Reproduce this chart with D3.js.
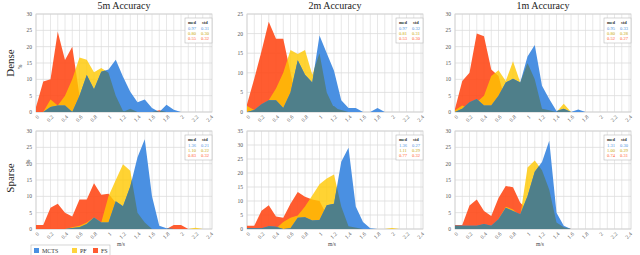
<!DOCTYPE html>
<html>
<head>
<meta charset="utf-8">
<script src="https://cdn.jsdelivr.net/npm/d3@7"></script>
<style>
  body { margin: 0; background: #fff; }
  svg text { font-family: "Liberation Serif", serif; }
</style>
</head>
<body>
<svg id="chart" width="640" height="255"></svg>
<script>
// bin centres (m/s)
var bins = [0, 0.1, 0.2, 0.3, 0.4, 0.5, 0.6, 0.7, 0.8, 0.9, 1.0, 1.1, 1.2,
            1.3, 1.4, 1.5, 1.6, 1.7, 1.8, 1.9, 2.0, 2.1, 2.2, 2.3, 2.4];
var xTicks = [0, 0.2, 0.4, 0.6, 0.8, 1, 1.2, 1.4, 1.6, 1.8, 2, 2.2, 2.4];
var seriesNames = ["MCTS", "PF", "FS"];
var titles = ["5m Accuracy", "2m Accuracy", "1m Accuracy"];
var rowNames = ["Dense", "Sparse"];
var yMax = [30, 25, 30, 30, 35, 30];

// percentages per bin
var dense5_mcts = [0,0,1.5,2,2,0,5,11.3,7,12.3,13,16,10.8,6.2,3,3.8,1.2,0,2.2,0.7,0,0,0,0,0];
var dense5_pf   = [0,0,3.8,2,5,10,16.7,16,12.2,13.5,12,5,0.3,0,0,0,0,0,0,0,0,0,0,0,0];
var dense5_fs   = [1.5,9.3,10,24.6,15.9,20,5,3,1,1.5,2,1.5,0,1,0,0,0,0.5,0,0,0,0,0,0,0];

var dense2_mcts = [0,0.5,2,3,3,1,5,13.2,9.5,7.5,19.5,15,10.5,3,1,1,0,0,1,0,0,0,0,0,0];
var dense2_pf   = [1.5,0.5,1,3,6,10,15.8,14.8,15.8,9.5,15,5,1,0.5,0,0,0,0,0,0,0,0,0,0,0];
var dense2_fs   = [2,8.5,15.5,23,18.7,18.7,10,2,1,0.5,0.5,1.5,1.5,0,0,0,0,0,0,0,0,0,0,0,0];

var dense1_mcts = [0,1,3,4,2,2,5,9,10.2,9,17,20.5,8,4,0.3,1,0,0.8,0,0,0,0,0,0,0];
var dense1_pf   = [0.5,2,1,3,5,11,12.8,9.5,15.5,9,15,10,1,0.5,0,2.5,0,0,0,0,0,0,0,0,0];
var dense1_fs   = [1,9.5,12,24,23.2,13,11,3,0,0,0.5,0,0,0,0,0,0,0,0,0,0,0,0,0,0];

var sparse5_mcts = [0,0,0,0,0,0.3,0.5,1.5,3.5,2,2,8.5,7,13,22,27.5,10,1,0.2,0,0,0,0,0,0];
var sparse5_pf   = [0,0,0,0,0,0.5,1,2,3.5,2,10,15,19.8,17.8,5,2,0,0,0,0,0,0,0.4,0,0];
var sparse5_fs   = [1.2,1.2,6.5,7.7,5,3.8,9,9,14,10.5,10.8,8,2,1,0.5,0,0,0,0,1.2,1.2,0,0,0,0];

var sparse2_mcts = [0.3,0.3,0.3,1,0.8,0,0.3,4,4.2,3,3.2,8.5,9,24,29,8,2.5,0.3,0,0,0,0,0,0,0];
var sparse2_pf   = [0,0,0,0,0.2,2.5,4,4.8,8,12,16,18,19.5,8,1,0.5,0,0,0,0,0.4,0,0,0,0];
var sparse2_fs   = [1.2,1.2,6.5,8.5,4.5,4,9,13.2,11.5,10.5,10,5,2,1,0,0,0,0,0,0,0,0,0,0,0];

var sparse1_mcts = [1,1,1,1,1.5,1,3,6.5,5.5,4.5,10,17.5,20.5,27,5,1,0,0,0,0,0,0,0,0,0];
var sparse1_pf   = [0,0,0,0,0,0.5,3,6.8,6,4,18.8,21,18,12,2,0.5,0,0,0,0,0,0,0,0,0];
var sparse1_fs   = [1.2,1.2,7.2,9,5.5,4,9.5,13.2,12.8,8,6,5.5,4,2,1,0.5,0,0,0,0,0,0,0,0,0];

// med / std shown in each panel box
var medStd = [
  [["0.97","0.31"],["0.80","0.30"],["0.55","0.32"]],
  [["0.97","0.32"],["0.81","0.31"],["0.53","0.30"]],
  [["0.95","0.33"],["0.80","0.28"],["0.52","0.27"]],
  [["1.36","0.21"],["1.10","0.22"],["0.83","0.32"]],
  [["1.36","0.27"],["1.11","0.29"],["0.77","0.32"]],
  [["1.31","0.30"],["1.00","0.29"],["0.74","0.31"]]
];

var panels = [
  [dense5_mcts, dense5_pf, dense5_fs],
  [dense2_mcts, dense2_pf, dense2_fs],
  [dense1_mcts, dense1_pf, dense1_fs],
  [sparse5_mcts, sparse5_pf, sparse5_fs],
  [sparse2_mcts, sparse2_pf, sparse2_fs],
  [sparse1_mcts, sparse1_pf, sparse1_fs]
];

var colors = {MCTS: "#4a90e2", PF: "#ffc800", FS: "#ff4a1a"};
var opac = {MCTS: 1, PF: 0.8, FS: 0.9};
var legendColors = {MCTS: "#4a90e2", PF: "#ffd33c", FS: "#ff5a30"};
var textColors = {MCTS: "#4a8fdc", PF: "#c8a800", FS: "#ff5a2c"};
var overlapColor = "#4f7f8a";

var colX = [36, 247, 455];
var rowY = [14, 131];
var pw = 176, ph = 98;

var svg = d3.select("#chart");
var defs = svg.append("defs");

panels.forEach(function(series, p) {
  var row = Math.floor(p / 3), col = p % 3;
  var g = svg.append("g")
      .attr("transform", "translate(" + colX[col] + "," + rowY[row] + ")");

  var x = d3.scaleLinear().domain([0, 2.4]).range([0, pw - 2]);
  var y = d3.scaleLinear().domain([0, yMax[p]]).range([ph, 0]);

  // grid
  g.append("g").selectAll("line").data(bins).enter().append("line")
      .attr("x1", function(d) { return x(d); }).attr("x2", function(d) { return x(d); })
      .attr("y1", 0).attr("y2", ph)
      .attr("stroke", "#e2e2e2").attr("stroke-width", 0.8);
  g.append("g").selectAll("line").data(y.ticks(yMax[p] / 5)).enter().append("line")
      .attr("x1", 0).attr("x2", pw)
      .attr("y1", function(d) { return y(d); }).attr("y2", function(d) { return y(d); })
      .attr("stroke", "#dcdcdc").attr("stroke-width", 0.8);
  g.append("rect").attr("width", pw).attr("height", ph)
      .attr("fill", "none").attr("stroke", "#d0d0d0").attr("stroke-width", 0.8);

  var area = d3.area()
      .x(function(d, i) { return x(bins[i]); })
      .y0(ph)
      .y1(function(d) { return y(d); });

  // FS first, then PF, then MCTS on top
  [2, 1, 0].forEach(function(k) {
    var name = seriesNames[k];
    g.append("path")
        .datum(series[k])
        .attr("d", area)
        .attr("fill", colors[name])
        .attr("fill-opacity", opac[name]);
  });

  // where MCTS lies over PF or FS the fill turns dark teal
  var clip = defs.append("clipPath").attr("id", "under" + p);
  clip.append("path").datum(series[1]).attr("d", area);
  clip.append("path").datum(series[2]).attr("d", area);
  g.append("path")
      .datum(series[0])
      .attr("d", area)
      .attr("fill", overlapColor)
      .attr("clip-path", "url(#under" + p + ")");

  // y axis labels
  g.append("g").selectAll("text").data(y.ticks(yMax[p] / 5)).enter().append("text")
      .attr("x", -4).attr("y", function(d) { return y(d); })
      .attr("dy", "0.35em").attr("text-anchor", "end")
      .attr("font-size", 5.5).attr("fill", "#555")
      .text(function(d) { return d; });

  // x axis labels, rotated
  g.append("g").selectAll("text").data(xTicks).enter().append("text")
      .attr("transform", function(d) { return "translate(" + (x(d) + 2) + "," + (ph + 4) + ") rotate(-45)"; })
      .attr("text-anchor", "end").attr("dy", "0.35em")
      .attr("font-size", 5.5).attr("fill", "#555")
      .text(function(d) { return d; });

  if (row === 0) {
    g.append("text").attr("x", pw / 2).attr("y", -5)
        .attr("text-anchor", "middle").attr("font-size", 10).attr("fill", "#222")
        .text(titles[col]);
  } else {
    g.append("text").attr("x", pw / 2 - 3).attr("y", ph + 17)
        .attr("text-anchor", "middle").attr("font-size", 5.5).attr("fill", "#444")
        .text("m/s");
  }

  // med / std box
  var bx = pw - 27, by = 4;
  var box = g.append("g").attr("transform", "translate(" + bx + "," + by + ")");
  box.append("rect").attr("width", 27).attr("height", 25)
      .attr("fill", "#fff").attr("stroke", "#bbb").attr("stroke-width", 0.6);
  box.append("text").attr("x", 7).attr("y", 6).attr("text-anchor", "middle")
      .attr("font-size", 4.5).attr("font-weight", "bold").attr("fill", "#333").text("med");
  box.append("text").attr("x", 20).attr("y", 6).attr("text-anchor", "middle")
      .attr("font-size", 4.5).attr("font-weight", "bold").attr("fill", "#333").text("std");
  medStd[p].forEach(function(v, k) {
    var name = seriesNames[k];
    box.append("text").attr("x", 7).attr("y", 11.5 + k * 5).attr("text-anchor", "middle")
        .attr("font-size", 4.5).attr("fill", textColors[name]).text(v[0]);
    box.append("text").attr("x", 20).attr("y", 11.5 + k * 5).attr("text-anchor", "middle")
        .attr("font-size", 4.5).attr("fill", textColors[name]).text(v[1]);
  });
});

// row labels
svg.append("text").attr("transform", "translate(14,63) rotate(-90)")
    .attr("text-anchor", "middle").attr("font-size", 11).attr("fill", "#222").text(rowNames[0]);
svg.append("text").attr("transform", "translate(22,67) rotate(-90)")
    .attr("text-anchor", "middle").attr("font-size", 5.5).attr("fill", "#444").text("%");
svg.append("text").attr("transform", "translate(14,178) rotate(-90)")
    .attr("text-anchor", "middle").attr("font-size", 11).attr("fill", "#222").text(rowNames[1]);
svg.append("text").attr("transform", "translate(30,162) rotate(-90)")
    .attr("text-anchor", "middle").attr("font-size", 5.5).attr("fill", "#444").text("%");

// legend
var lg = svg.append("g").attr("transform", "translate(31,245)");
lg.append("rect").attr("width", 79).attr("height", 12)
    .attr("fill", "#fff").attr("stroke", "#bbb").attr("stroke-width", 0.6);
var legX = [3, 41, 62];
seriesNames.forEach(function(name, k) {
  lg.append("rect").attr("x", legX[k]).attr("y", 3).attr("width", 5).attr("height", 5)
      .attr("fill", legendColors[name]);
  lg.append("text").attr("x", legX[k] + 8).attr("y", 8)
      .attr("font-size", 6).attr("fill", "#333").text(name);
});
</script>
</body>
</html>
